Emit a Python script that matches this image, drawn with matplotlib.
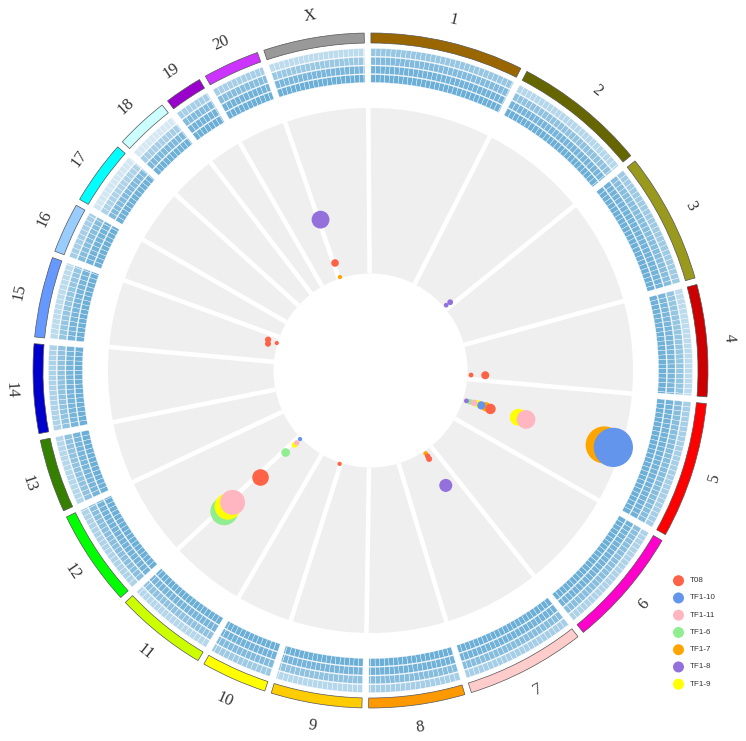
import numpy as np
import matplotlib
matplotlib.use("Agg")
import matplotlib.pyplot as plt
from matplotlib.colors import to_rgb

# chromosomes (lengths in Mb)
chrom_names = ['1', '2', '3', '4', '5', '6', '7', '8', '9', '10', '11', '12', '13',
               '14', '15', '16', '17', '18', '19', '20', 'X']
chrom_len = [263, 228, 224, 192, 234, 206, 205, 165, 156, 113, 158, 165, 126,
             153, 138, 86, 110, 92, 65, 97, 173]
chrom_colors = ['#996600', '#666600', '#99991E', '#CC0000', '#FF0000', '#FF00CC', '#FFCCCC',
                '#FF9900', '#FFCC00', '#FFFF00', '#CCFF00', '#00FF00', '#358000', '#0000CC',
                '#6699FF', '#99CCFF', '#00FFFF', '#CCFFFF', '#9900CC', '#CC33FF', '#999999']

# density track, 4 rows (inner -> outer), one value per chromosome
dens_row1 = [1.0, 1.0, 1.0, 0.97, 1.0, 1.0, 1.0, 1.0, 1.0, 1.0, 1.0, 1.0, 1.0,
             1.0, 1.0, 1.0, 0.97, 0.97, 1.0, 1.0, 1.0]
dens_row2 = [0.95, 0.92, 0.95, 0.9, 0.95, 0.95, 0.95, 0.95, 0.92, 0.95, 0.92, 0.95, 0.92,
             0.92, 0.92, 0.95, 0.85, 0.88, 0.95, 0.95, 0.9]
dens_row3 = [0.85, 0.75, 0.82, 0.72, 0.82, 0.8, 0.82, 0.82, 0.75, 0.85, 0.75, 0.8, 0.75,
             0.75, 0.72, 0.82, 0.55, 0.6, 0.85, 0.82, 0.68]
dens_row4 = [0.7, 0.5, 0.65, 0.45, 0.6, 0.55, 0.6, 0.6, 0.5, 0.65, 0.5, 0.55, 0.5,
             0.55, 0.45, 0.6, 0.3, 0.28, 0.6, 0.6, 0.45]

# bubble series: (chromosome, position Mb, value)
series_names = ['T08', 'TF1-10', 'TF1-11', 'TF1-6', 'TF1-7', 'TF1-8', 'TF1-9']
series_colors = ['#FF6347', '#6495ED', '#FFB6C1', '#90EE90', '#FFA500', '#9370DB', '#FFFF00']
t08 = [('X', 1.5, 9.8), ('15', 110, 6.0), ('15', 89, 5.4), ('15', 106, 0.4), ('4', 173, 2.2),
       ('4', 171, 10.8), ('5', 121, 17.5), ('7', 44, 5.5), ('7', 42, 3.6), ('10', 0.5, 0.8),
       ('11', 150, 34.1)]
tf1_10 = [('5', 118, 11.6), ('5', 119, 95.3), ('11', 150, 0.8)]
tf1_11 = [('5', 117, 6.9), ('5', 118, 39.9), ('11', 148, 3.8), ('11', 155, 56.7)]
tf1_6 = [('5', 118, 4.4), ('11', 152, 12.7), ('11', 153, 64.1)]
tf1_7 = [('X', 3, 0.8), ('5', 118, 14.5), ('5', 120, 89.6), ('7', 43, 1.6)]
tf1_8 = [('X', 1, 37.4), ('2', 215.5, 1.8), ('2', 217.5, 4.8), ('5', 119, 2.2), ('7', 47, 24.4)]
tf1_9 = [('5', 116, 9.4), ('5', 119, 35.1), ('11', 148, 5.5), ('11', 156, 60.5)]
series_points = [t08, tf1_10, tf1_11, tf1_6, tf1_7, tf1_8, tf1_9]
draw_order = ['TF1-6', 'TF1-7', 'TF1-8', 'TF1-9', 'TF1-10', 'TF1-11', 'T08']

# layout (radii in pixels)
W, H = 746, 741
cx, cy = 370.5, 370.5
R = 345
gap = 1.15
r_ideo = (327.5, 337.5)
r_blue = (288.0, 323.0)
r_grey = (97.0, 262.5)
vmax = 100.0
blue = np.array(to_rgb('#6baed6'))

dpm = (360 - len(chrom_len) * gap) / sum(chrom_len)
starts = {}
cur = -0.5 + gap / 2
for name, ln in zip(chrom_names, chrom_len):
    starts[name] = cur
    cur += ln * dpm + gap


def ang(chrom, pos):
    return np.deg2rad(starts[chrom] + pos * dpm)


fig = plt.figure(figsize=(W / 100, H / 100), dpi=100)
ax = fig.add_axes([(cx - R) / W, (H - cy - R) / H, 2 * R / W, 2 * R / H], projection='polar')
ax.set_theta_zero_location('N')
ax.set_theta_direction(-1)
ax.set_ylim(0, R)
ax.axis('off')

# grey track + white separators
ax.bar(0, r_grey[1] - r_grey[0], width=2 * np.pi, bottom=r_grey[0], color='#efefef',
       edgecolor='none', align='edge')
for name in chrom_names:
    th = np.deg2rad(starts[name] - gap / 2)
    ax.plot([th, th], [r_grey[0], r_grey[1] + 1], color='white', lw=3.3,
            solid_capstyle='butt', zorder=2)

# ideogram, density rows, labels
rows = [dens_row1, dens_row2, dens_row3, dens_row4]
row_h = (r_blue[1] - r_blue[0]) / 4
bin_mb = 9
for i, name in enumerate(chrom_names):
    ln = chrom_len[i]
    th0 = ang(name, 0)
    ax.bar(th0, r_ideo[1] - r_ideo[0], width=np.deg2rad(ln * dpm), bottom=r_ideo[0],
           color=chrom_colors[i], edgecolor='#555555', linewidth=0.5, align='edge')
    edges = np.arange(0, ln, bin_mb)
    widths = np.minimum(bin_mb, ln - edges)
    for k, dens in enumerate(rows):
        col = 1 - dens[i] * (1 - blue)
        ax.bar(ang(name, edges), row_h - 0.9, width=np.deg2rad(widths * dpm),
               bottom=r_blue[0] + k * row_h, color=col, edgecolor='white',
               linewidth=0.25, align='edge')
    mid = starts[name] + ln * dpm / 2
    rot = 180 - mid if 90 < mid <= 270 else -mid
    ax.text(np.deg2rad(mid), 360, name, rotation=rot, rotation_mode='anchor',
            ha='center', va='center', fontsize=12, family='Liberation Serif', color='#333333')

# bubbles
for z, sname in enumerate(draw_order):
    j = series_names.index(sname)
    pts = series_points[j]
    th = [ang(c, p) for c, p, v in pts]
    rr = [r_grey[0] + v / vmax * (r_grey[1] - r_grey[0]) for c, p, v in pts]
    sz = [((4 + 0.37 * v) * 0.72) ** 2 for c, p, v in pts]
    ax.scatter(th, rr, s=sz, color=series_colors[j], edgecolors='none', zorder=3 + z)

# legend
lax = fig.add_axes([0, 0, 1, 1])
lax.set_xlim(0, W)
lax.set_ylim(H, 0)
lax.axis('off')
for k, (sname, col) in enumerate(zip(series_names, series_colors)):
    y = 580.7 + k * 17.25
    lax.scatter([678.5], [y], s=(11 * 0.72) ** 2, color=col, edgecolors='none')
    lax.text(689.5, y, sname, fontsize=5.8, family='Liberation Sans', color='#333333',
             va='center', ha='left')

fig.savefig('out.png', dpi=100)
plt.close(fig)
